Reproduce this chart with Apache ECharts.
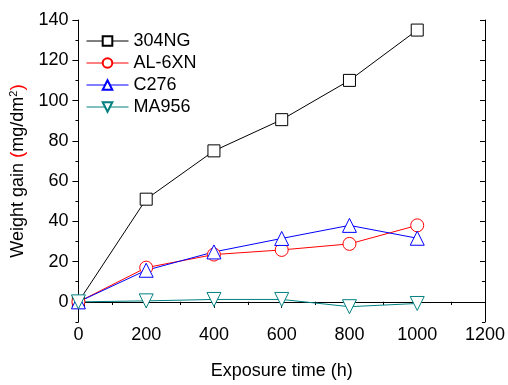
<!DOCTYPE html>
<html>
<head>
<meta charset="utf-8">
<script src="https://cdn.jsdelivr.net/npm/echarts@6/dist/echarts.min.js"></script>
<style>html,body{margin:0;padding:0;background:#fff}#c{width:508px;height:385px}</style>
</head>
<body>
<div id="c"></div>
<script>
var hours = [0, 200, 400, 600, 800, 1000];
var s304NG = [0, 51, 75, 90.5, 110, 135];
var sAL6XN = [0, 17, 23.5, 25.8, 28.8, 38];
var sC276 = [0, 15.7, 24.8, 31.5, 38, 31.6];
var sMA956 = [0, 0.5, 1.2, 1.2, -2.4, -0.8];
var yMajor = [0, 20, 40, 60, 80, 100, 120, 140];
var yMinor = [-10, 10, 30, 50, 70, 90, 110, 130];
var xMajor = [0, 200, 400, 600, 800, 1000, 1200];
var xMinor = [100, 300, 500, 700, 900, 1100];

var FONT = 'Liberation Sans';
function pairs(v) { return hours.map(function (h, i) { return [h, v[i]]; }); }
var chart = echarts.init(document.getElementById('c'));
var grid = { left: 78, right: 22, top: 20, bottom: 62 };
function xa(pos, major, len, inside, show) {
  return {
    type: 'value', position: pos, min: 0, max: 1200,
    axisLine: { show: show, lineStyle: { color: '#000', width: 1 } },
    axisTick: { show: true, customValues: major, length: len, inside: inside, lineStyle: { color: '#000' } },
    axisLabel: { show: false },
    splitLine: { show: false }
  };
}
function ya(pos, major, len, inside, show) {
  return {
    type: 'value', position: pos, min: -10, max: 140,
    axisLine: { show: show, onZero: false, lineStyle: { color: '#000', width: 1 } },
    axisTick: { show: true, customValues: major, length: len, inside: inside, lineStyle: { color: '#000' } },
    axisLabel: { show: false },
    splitLine: { show: false }
  };
}
var xAxes = [
  xa('bottom', xMajor, 6, false, true),
  xa('bottom', xMinor, 3, false, false),
  xa('top', xMajor, 5, true, true),
  xa('top', xMinor, 3, true, false)
];
xAxes[0].axisLabel = { show: true, customValues: xMajor, fontFamily: FONT, fontSize: 18, color: '#000', margin: 4,
  formatter: function (v) { return String(v); } };
xAxes[0].name = 'Exposure time (h)';
xAxes[0].nameLocation = 'middle';
xAxes[0].nameGap = 40;
xAxes[0].nameTextStyle = { fontFamily: FONT, fontSize: 18, color: '#000' };
var yAxes = [
  ya('left', yMajor, 6, false, true),
  ya('left', yMinor, 3, false, false),
  ya('right', yMajor, 5, true, true),
  ya('right', yMinor, 3, true, false)
];
yAxes[0].axisLabel = { show: true, customValues: yMajor, fontFamily: FONT, fontSize: 18, color: '#000', margin: 10,
  formatter: function (v) { return String(v); } };
yAxes[0].name = '{n|Weight gain }{p|(}{n|mg/dm}{s|2}{p|)}';
yAxes[0].nameLocation = 'middle';
yAxes[0].nameGap = 46;
yAxes[0].nameRotate = 90;
yAxes[0].nameTextStyle = {
  fontFamily: FONT, fontSize: 18, color: '#000',
  rich: {
    n: { fontFamily: FONT, fontSize: 18, color: '#000' },
    p: { fontFamily: FONT, fontSize: 19, color: '#ff0000' },
    s: { fontFamily: FONT, fontSize: 11, color: '#000', verticalAlign: 'top', padding: [0, 0, 9, 0] }
  }
};

function ser(name, data, color, symbol, size) {
  return {
    name: name, type: 'line', xAxisIndex: 0, yAxisIndex: 0,
    data: pairs(data), symbol: symbol, symbolSize: size, showSymbol: true,
    lineStyle: { color: color, width: 1 },
    itemStyle: { color: '#fff', borderColor: color, borderWidth: 1 },
    emphasis: { disabled: true }, animation: false, z: 3
  };
}
var series = [
  ser('304NG', s304NG, '#000000', 'rect', 12),
  ser('AL-6XN', sAL6XN, '#ff0000', 'circle', 13),
  ser('C276', sC276, '#0000ff', 'triangle', 14),
  ser('MA956', sMA956, '#008080', 'path://M0,0 L10,0 L5,9 Z', 14)
];
chart.setOption({
  animation: false,
  grid: grid,
  xAxis: xAxes,
  yAxis: yAxes,
  legend: {
    left: 81, top: 27, orient: 'vertical', itemGap: 4, itemWidth: 42, itemHeight: 12,
    lineStyle: { width: 1 },
    textStyle: { fontFamily: FONT, fontSize: 18, color: '#000', padding: [0, 0, 0, 0] },
    data: ['304NG', 'AL-6XN', 'C276', 'MA956']
  },
  series: series
});
</script>
</body>
</html>
